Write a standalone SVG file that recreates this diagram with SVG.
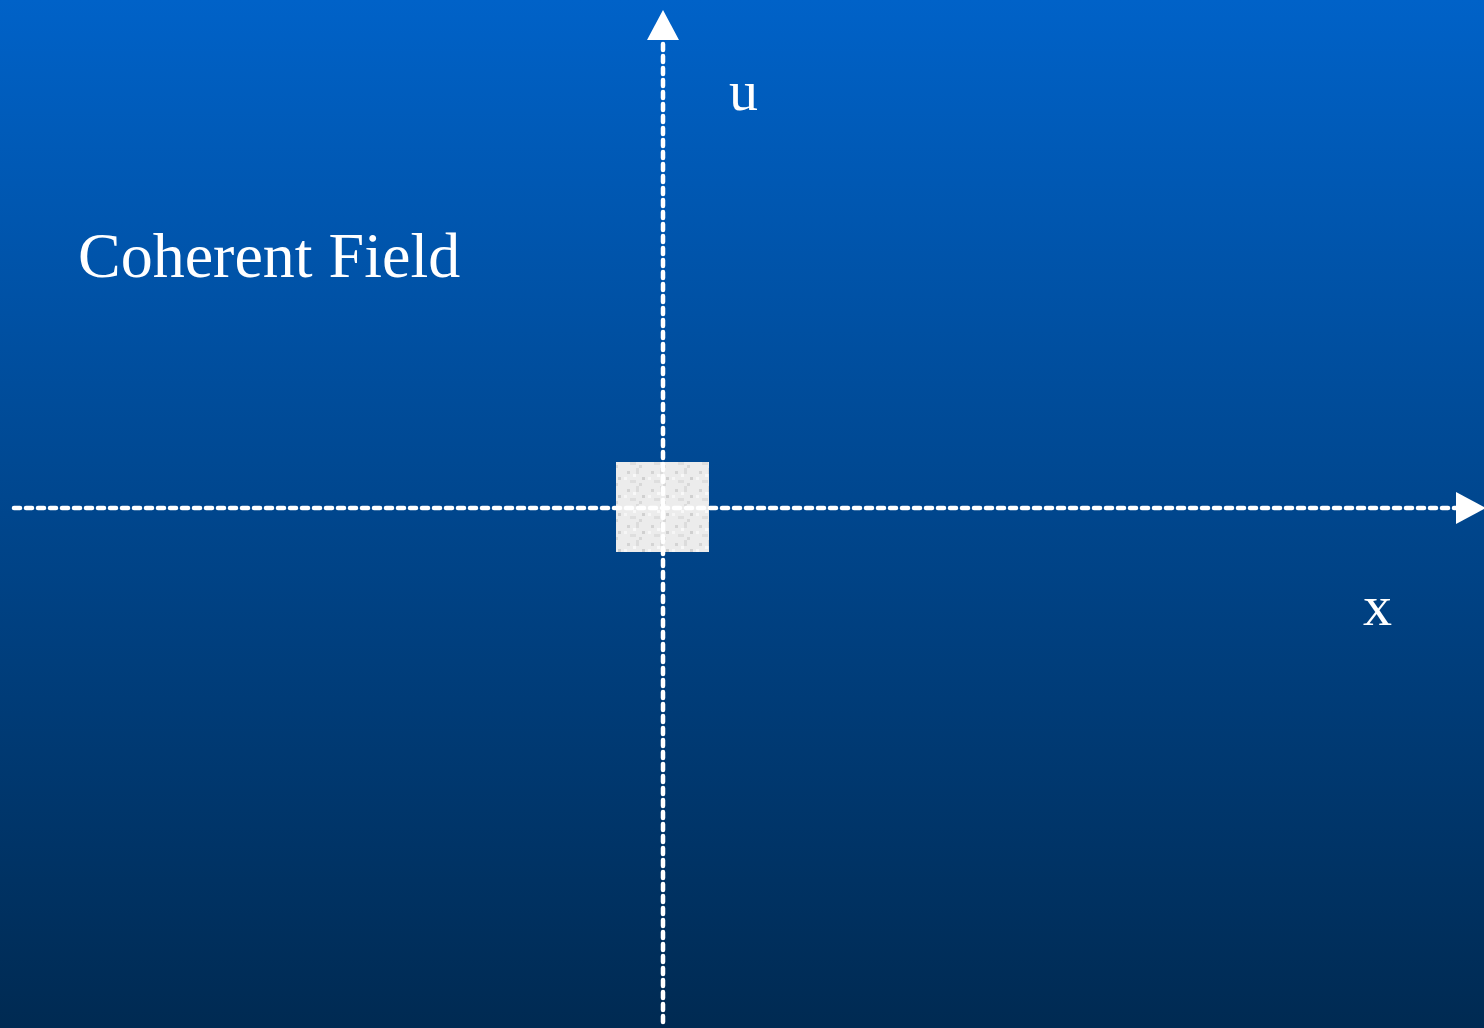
<svg xmlns="http://www.w3.org/2000/svg" width="1484" height="1028" viewBox="0 0 1484 1028">
<defs>
<linearGradient id="bg" x1="0" y1="0" x2="0" y2="1">
<stop offset="0" stop-color="#0062C8"/>
<stop offset="1" stop-color="#002A52"/>
</linearGradient>
<pattern id="noise" width="24" height="18" patternUnits="userSpaceOnUse">
<rect width="24" height="18" fill="#ECECEC"/>
<rect x="3" y="3" width="3" height="3" fill="#D4D4D4"/>
<rect x="12" y="0" width="3" height="6" fill="#DCDCDC"/>
<rect x="18" y="9" width="3" height="3" fill="#D0D0D0"/>
<rect x="6" y="12" width="6" height="3" fill="#DEDEDE"/>
<rect x="15" y="15" width="3" height="3" fill="#D8D8D8"/>
<rect x="0" y="9" width="3" height="3" fill="#F6F6F6"/>
<rect x="9" y="6" width="3" height="3" fill="#F8F8F8"/>
</pattern>
<marker id="arrow" markerWidth="30" markerHeight="32" refX="0" refY="16" orient="auto" markerUnits="userSpaceOnUse">
<path d="M0,0 L30,16 L0,32 Z" fill="#FFFFFF"/>
</marker>
</defs>
<style>
.axis { stroke: #FFFFFF; stroke-width: 4.5; stroke-dasharray: 6 6; stroke-linecap: round; fill: none; }
.lbl { font-family: "Liberation Serif", "Times New Roman", serif; fill: #FFFFFF; }
</style>
<rect width="1484" height="1028" fill="url(#bg)"/>
<g id="source">
<rect x="616" y="462" width="93" height="90" fill="url(#noise)"/>
</g>
<g id="connectors">
<line class="axis" x1="14" y1="508" x2="1456" y2="508" marker-end="url(#arrow)"/>
<line class="axis" x1="663" y1="1022" x2="663" y2="40" marker-end="url(#arrow)"/>
</g>
<g id="labels">
<text class="lbl" x="78" y="277" font-size="64">Coherent Field</text>
<text class="lbl" x="729" y="110" font-size="58">u</text>
<text class="lbl" x="1363" y="625" font-size="58">x</text>
</g>
</svg>
